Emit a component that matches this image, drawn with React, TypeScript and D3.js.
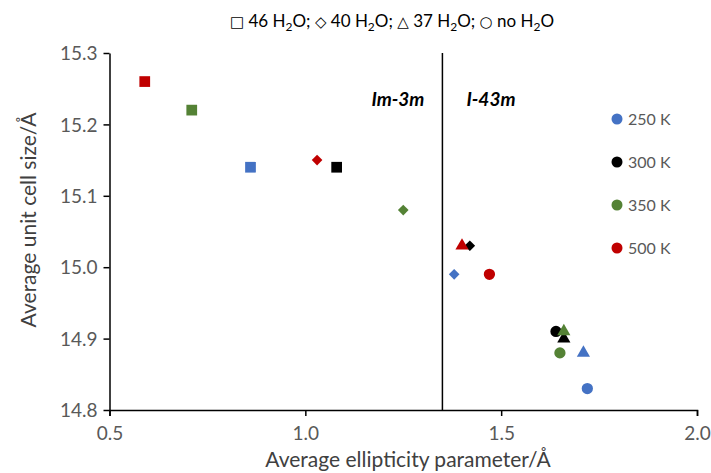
import { useEffect, useRef } from "react";
import * as d3 from "d3";

// order of points in every series: 46 H2O (square), 40 H2O (diamond), 37 H2O (triangle), no H2O (circle)
const shapes = ["square", "diamond", "triangle", "circle"];
const temperatures = ["250 K", "300 K", "350 K", "500 K"];
const colors = ["#4472C4", "#000000", "#548235", "#C00000"];

const ellipticity250 = [0.86, 1.38, 1.71, 1.72];
const cellSize250 = [15.14, 14.99, 14.88, 14.83];
const ellipticity300 = [1.08, 1.42, 1.66, 1.64];
const cellSize300 = [15.14, 15.03, 14.9, 14.91];
const ellipticity350 = [0.71, 1.25, 1.66, 1.65];
const cellSize350 = [15.22, 15.08, 14.91, 14.88];
const ellipticity500 = [0.59, 1.03, 1.4, 1.47];
const cellSize500 = [15.26, 15.15, 15.03, 14.99];

const xTicks = [0.5, 1.0, 1.5, 2.0];
const yTicks = [14.8, 14.9, 15.0, 15.1, 15.2, 15.3];
const phaseBoundary = 1.35;

const keySymbols = ["\u25A1", "\u25C7", "\u25B3", "\u25CB"];
const keyLabels = [" 46 H", " 40 H", " 37 H", " no H"];

export default function App() {
  const ref = useRef<SVGSVGElement>(null);

  useEffect(() => {
    const svg = d3.select(ref.current);
    svg.selectAll("*").remove();

    const font = "Lato, 'Noto Sans', sans-serif";
    const x = d3.scaleLinear().domain([0.5, 2.0]).range([109.5, 697]);
    const y = d3.scaleLinear().domain([14.8, 15.3]).range([410, 53]);

    const xs = [ellipticity250, ellipticity300, ellipticity350, ellipticity500];
    const ys = [cellSize250, cellSize300, cellSize350, cellSize500];

    // axes
    const xAxis = svg.append("g")
      .attr("transform", `translate(0, ${y(14.8)})`)
      .call(d3.axisBottom(x).tickValues(xTicks).tickFormat(d3.format(".1f")).tickSizeInner(6).tickSizeOuter(6));
    const yAxis = svg.append("g")
      .attr("transform", `translate(${x(0.5)}, 0)`)
      .call(d3.axisLeft(y).tickValues(yTicks).tickFormat(d3.format(".1f")).tickSizeInner(6).tickSizeOuter(0));

    [xAxis, yAxis].forEach(a => {
      a.select(".domain").attr("stroke", "#000").attr("stroke-width", 1.5);
      a.selectAll(".tick line").attr("stroke", "#000").attr("stroke-width", 1.5);
      a.selectAll(".tick text")
        .attr("fill", "#595959")
        .style("font-family", font)
        .style("font-size", "19px");
    });
    xAxis.selectAll(".tick text").attr("dy", "0").attr("y", 30);
    yAxis.selectAll(".tick text").attr("x", -12).attr("dy", "0.35em");

    // boundary line
    svg.append("line")
      .attr("x1", x(phaseBoundary)).attr("x2", x(phaseBoundary))
      .attr("y1", y(15.3)).attr("y2", y(14.8))
      .attr("stroke", "#000").attr("stroke-width", 1.5);

    svg.append("text")
      .attr("x", x(phaseBoundary) - 18).attr("y", 106)
      .attr("text-anchor", "end")
      .style("font-family", font).style("font-size", "19px")
      .style("font-weight", "bold").style("font-style", "italic")
      .text("Im-3m");
    svg.append("text")
      .attr("x", x(phaseBoundary) + 24).attr("y", 106)
      .style("font-family", font).style("font-size", "19px")
      .style("font-weight", "bold").style("font-style", "italic")
      .text("I-43m");

    const symbolFor = (s: string) => {
      if (s === "square") return d3.symbol(d3.symbolSquare, 115)();
      if (s === "diamond") return d3.symbol(d3.symbolDiamond2, 72)();
      if (s === "triangle") return d3.symbol(d3.symbolTriangle, 75)();
      return d3.symbol(d3.symbolCircle, 100)();
    };

    // points
    temperatures.forEach((t, i) => {
      svg.append("g").selectAll("path")
        .data(xs[i])
        .enter()
        .append("path")
        .attr("d", (d, j) => symbolFor(shapes[j]))
        .attr("transform", (d, j) => `translate(${x(d)}, ${y(ys[i][j])})`)
        .attr("fill", colors[i]);
    });

    // legend
    const legend = svg.append("g");
    temperatures.forEach((t, i) => {
      const ly = 119 + i * 43;
      legend.append("circle").attr("cx", 617).attr("cy", ly).attr("r", 5.5).attr("fill", colors[i]);
      legend.append("text")
        .attr("x", 628).attr("y", ly).attr("dy", "0.35em")
        .attr("fill", "#595959")
        .style("font-family", font).style("font-size", "16px")
        .text(t);
    });

    // water content key
    const key = svg.append("text")
      .attr("x", 392).attr("y", 27)
      .attr("text-anchor", "middle")
      .attr("fill", "#000")
      .style("font-family", font)
      .style("font-size", "17px");
    keySymbols.forEach((sym, i) => {
      key.append("tspan").style("font-family", "'DejaVu Sans', sans-serif").style("font-size", "15px").text(sym);
      key.append("tspan").text(keyLabels[i]);
      key.append("tspan").attr("dy", 4).style("font-size", "12px").text("2");
      key.append("tspan").attr("dy", -4).text(i < keySymbols.length - 1 ? "O; " : "O");
    });

    // axis titles
    svg.append("text")
      .attr("x", 408).attr("y", 467)
      .attr("text-anchor", "middle")
      .attr("fill", "#404040")
      .style("font-family", font).style("font-size", "21px")
      .text("Average ellipticity parameter/\u00C5");
    svg.append("text")
      .attr("transform", "translate(36, 220) rotate(-90)")
      .attr("text-anchor", "middle")
      .attr("fill", "#404040")
      .style("font-family", font).style("font-size", "21px")
      .text("Average unit cell size/\u00C5");
  }, []);

  return (
    <svg ref={ref} width={711} height={473}
      style={{ position: "absolute", left: 0, top: 0, background: "#fff" }} />
  );
}
